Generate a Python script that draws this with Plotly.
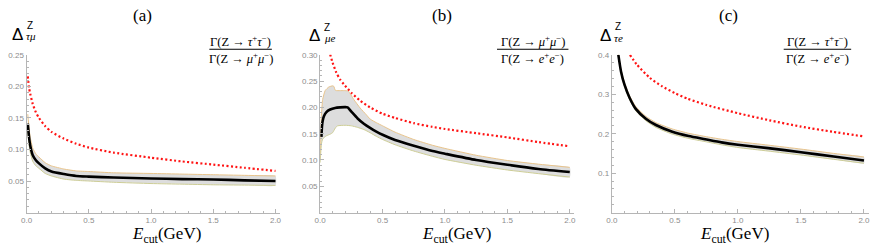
import plotly.graph_objects as go

# ---------------- data ----------------
# panel (a)  Delta^Z_{tau mu}
xa = [0.01, 0.02, 0.03, 0.05, 0.075, 0.1, 0.15, 0.2, 0.3, 0.4, 0.5, 0.7, 1.0, 1.25, 1.5, 1.75, 2.0]
black_a = [0.141, 0.120, 0.106, 0.091, 0.083, 0.078, 0.070, 0.065, 0.061, 0.058, 0.057, 0.0555, 0.054, 0.053, 0.0525, 0.051, 0.050]
upper_a = [0.156, 0.134, 0.119, 0.102, 0.093, 0.088, 0.079, 0.074, 0.069, 0.066, 0.065, 0.063, 0.062, 0.061, 0.060, 0.059, 0.058]
lower_a = [0.128, 0.108, 0.095, 0.081, 0.074, 0.070, 0.062, 0.058, 0.053, 0.051, 0.050, 0.048, 0.046, 0.045, 0.044, 0.0435, 0.043]
red_a = [0.216, 0.198, 0.188, 0.172, 0.159, 0.150, 0.137, 0.128, 0.117, 0.109, 0.103, 0.095, 0.087, 0.081, 0.076, 0.071, 0.066]

# panel (b)  Delta^Z_{mu e}
xb = [0.01, 0.015, 0.02, 0.03, 0.05, 0.08, 0.12, 0.16, 0.2, 0.22, 0.25, 0.3, 0.35, 0.4, 0.45, 0.5, 0.6, 0.75, 0.9, 1.0, 1.25, 1.5, 1.75, 2.0]
black_b = [0.144, 0.165, 0.174, 0.183, 0.191, 0.196, 0.199, 0.200, 0.2005, 0.200, 0.192, 0.179, 0.169, 0.161, 0.154, 0.148, 0.138, 0.127, 0.117, 0.112, 0.100, 0.091, 0.083, 0.077]
xb_up = [0.0, 0.005, 0.01, 0.02, 0.04, 0.07, 0.1, 0.11, 0.12, 0.13, 0.2, 0.225, 0.27, 0.32, 0.37, 0.4, 0.45, 0.5, 0.6, 0.75, 0.9, 1.0, 1.25, 1.5, 1.75, 2.0]
upper_b = [0.100, 0.150, 0.185, 0.215, 0.232, 0.239, 0.241, 0.240, 0.233, 0.232, 0.232, 0.231, 0.215, 0.199, 0.186, 0.178, 0.171, 0.165, 0.153, 0.139, 0.128, 0.122, 0.109, 0.099, 0.092, 0.086]
xb_lo = [0.0, 0.005, 0.01, 0.02, 0.05, 0.08, 0.1, 0.11, 0.125, 0.14, 0.2, 0.25, 0.3, 0.35, 0.4, 0.45, 0.5, 0.6, 0.75, 0.9, 1.0, 1.25, 1.5, 1.75, 2.0]
lower_b = [0.095, 0.115, 0.130, 0.140, 0.146, 0.149, 0.152, 0.156, 0.162, 0.165, 0.166, 0.165, 0.162, 0.158, 0.152, 0.145, 0.139, 0.129, 0.117, 0.107, 0.101, 0.090, 0.081, 0.074, 0.0675]
xb_red = [0.08, 0.1, 0.13, 0.16, 0.19, 0.25, 0.32, 0.4, 0.5, 0.6, 0.75, 0.9, 1.0, 1.25, 1.5, 1.75, 2.0]
red_b = [0.301, 0.285, 0.266, 0.253, 0.244, 0.228, 0.213, 0.200, 0.188, 0.180, 0.170, 0.163, 0.159, 0.151, 0.143, 0.134, 0.126]

# panel (c)  Delta^Z_{tau e}
xc = [0.052, 0.073, 0.1, 0.14, 0.19, 0.27, 0.35, 0.48, 0.61, 0.74, 0.87, 1.0, 1.24, 1.5, 1.76, 2.0]
black_c = [0.400, 0.358, 0.325, 0.292, 0.263, 0.238, 0.222, 0.205, 0.194, 0.186, 0.178, 0.172, 0.1635, 0.153, 0.142, 0.132]
upper_c = [0.404, 0.363, 0.330, 0.297, 0.269, 0.244, 0.228, 0.212, 0.201, 0.193, 0.186, 0.180, 0.171, 0.161, 0.150, 0.141]
lower_c = [0.396, 0.353, 0.320, 0.287, 0.258, 0.233, 0.216, 0.199, 0.188, 0.180, 0.172, 0.165, 0.156, 0.146, 0.135, 0.125]
xc_red = [0.144, 0.2, 0.3, 0.4, 0.5, 0.6, 0.75, 1.0, 1.25, 1.5, 1.75, 2.0]
red_c = [0.400, 0.375, 0.342, 0.320, 0.303, 0.289, 0.273, 0.252, 0.234, 0.218, 0.205, 0.193]

# tick labels
x_tickvals = [0.0, 0.5, 1.0, 1.5, 2.0]
x_ticktext = ["0.0", "0.5", "1.0", "1.5", "2.0"]
ya_tickvals = [0.05, 0.10, 0.15, 0.20, 0.25]
ya_ticktext = ["0.05", "0.10", "0.15", "0.20", "0.25"]
yb_tickvals = [0.05, 0.10, 0.15, 0.20, 0.25, 0.30]
yb_ticktext = ["0.05", "0.10", "0.15", "0.20", "0.25", "0.30"]
yc_tickvals = [0.1, 0.2, 0.3, 0.4]
yc_ticktext = ["0.1", "0.2", "0.3", "0.4"]

panel_titles = ["(a)", "(b)", "(c)"]
delta_subs = ["τμ", "μe", "τe"]
frac_num = ["Γ(Z → <i>τ</i><sup>+</sup><i>τ</i><sup>−</sup>)",
            "Γ(Z → <i>μ</i><sup>+</sup><i>μ</i><sup>−</sup>)",
            "Γ(Z → <i>τ</i><sup>+</sup><i>τ</i><sup>−</sup>)"]
frac_den = ["Γ(Z → <i>μ</i><sup>+</sup><i>μ</i><sup>−</sup>)",
            "Γ(Z → <i>e</i><sup>+</sup><i>e</i><sup>−</sup>)",
            "Γ(Z → <i>e</i><sup>+</sup><i>e</i><sup>−</sup>)"]
xlabel = "<i>E</i><sub>cut</sub>(GeV)"

# ---------------- layout geometry (pixels) ----------------
W, H = 872, 246
def PX(p):
    return p / W
def PY(p):
    return 1 - p / H

panels = [
    dict(x0=20.7, x1=276.7, xmax=2.04, ymax=0.25, ydt=0.01,
         xt=x_tickvals, xtt=x_ticktext, yt=ya_tickvals, ytt=ya_ticktext,
         title=(138, 12), dl=(11.5, 30.5), zl=(19, 21.5), sl=(18.5, 32.5),
         frac=(205, 268), xlab=(162, 235)),
    dict(x0=316.7, x1=573.0, xmax=2.037, ymax=0.30, ydt=0.01,
         xt=x_tickvals, xtt=x_ticktext, yt=yb_tickvals, ytt=yb_ticktext,
         title=(440, 12), dl=(311.5, 32), zl=(319, 23.5), sl=(318.5, 35),
         frac=(495, 567), xlab=(454, 235)),
    dict(x0=610.7, x1=870.0, xmax=2.04, ymax=0.40, ydt=0.02,
         xt=x_tickvals, xtt=x_ticktext, yt=yc_tickvals, ytt=yc_ticktext,
         title=(728, 12), dl=(604, 32), zl=(611.5, 22.5), sl=(611, 35),
         frac=(784, 852), xlab=(734, 235)),
]

series = [
    dict(xu=xa, yu=upper_a, xl=xa, yl=lower_a, xk=xa, yk=black_a, xr=xa, yr=red_a),
    dict(xu=xb_up, yu=upper_b, xl=xb_lo, yl=lower_b, xk=xb, yk=black_b, xr=xb_red, yr=red_b),
    dict(xu=xc, yu=upper_c, xl=xc, yl=lower_c, xk=xc, yk=black_c, xr=xc_red, yr=red_c),
]

AX_COL = "#b5b5b5"
TICK_FONT = dict(family="Liberation Sans, Arial, sans-serif", size=8, color="#8c8c8c")
SERIF = "Liberation Serif, Times New Roman, serif"
SANS = "Liberation Sans, Arial, sans-serif"

fig = go.Figure()
annotations = []
shapes = []
y_dom = [PY(212), PY(51.7)]

def ann(text, x, y, xanchor, size, family):
    return dict(text=text, x=PX(x), y=PY(y), xref="paper", yref="paper",
                xanchor=xanchor, yanchor="middle", showarrow=False,
                font=dict(family=family, size=size, color="black"))

for i, (p, s) in enumerate(zip(panels, series)):
    suf = "" if i == 0 else str(i + 1)
    xr_name, yr_name = "x" + suf, "y" + suf
    # band
    fig.add_trace(go.Scatter(x=s["xu"] + s["xl"][::-1], y=s["yu"] + s["yl"][::-1],
                             fill="toself", fillcolor="rgb(221,221,221)",
                             mode="lines", line=dict(width=0, shape="spline", smoothing=0.5),
                             hoverinfo="skip", showlegend=False, xaxis=xr_name, yaxis=yr_name))
    fig.add_trace(go.Scatter(x=s["xu"], y=s["yu"], mode="lines",
                             line=dict(color="rgb(232,196,140)", width=1, shape="spline", smoothing=0.5),
                             showlegend=False, xaxis=xr_name, yaxis=yr_name))
    fig.add_trace(go.Scatter(x=s["xl"], y=s["yl"], mode="lines",
                             line=dict(color="rgb(205,205,150)", width=1, shape="spline", smoothing=0.5),
                             showlegend=False, xaxis=xr_name, yaxis=yr_name))
    fig.add_trace(go.Scatter(x=s["xk"], y=s["yk"], mode="lines",
                             line=dict(color="black", width=2.6, shape="spline", smoothing=0.6),
                             showlegend=False, xaxis=xr_name, yaxis=yr_name))
    fig.add_trace(go.Scatter(x=s["xr"], y=s["yr"], mode="lines",
                             line=dict(color="rgb(255,20,20)", width=2.2, dash="2px,2.4px",
                                       shape="spline", smoothing=0.6),
                             showlegend=False, xaxis=xr_name, yaxis=yr_name))

    xaxis = dict(domain=[PX(p["x0"]), PX(p["x1"])], range=[0, p["xmax"]], anchor=yr_name,
                 showline=True, linecolor=AX_COL, linewidth=1, showgrid=False, zeroline=False,
                 tickmode="array", tickvals=p["xt"], ticktext=p["xtt"], ticks="inside",
                 ticklen=4, tickcolor=AX_COL, tickfont=TICK_FONT,
                 minor=dict(tickmode="linear", tick0=0, dtick=0.1, ticks="inside", ticklen=2,
                            tickcolor=AX_COL, showgrid=False))
    yaxis = dict(domain=y_dom, range=[0, p["ymax"]], anchor=xr_name,
                 showline=True, linecolor=AX_COL, linewidth=1, showgrid=False, zeroline=False,
                 tickmode="array", tickvals=p["yt"], ticktext=p["ytt"], ticks="inside",
                 ticklen=4, tickcolor=AX_COL, tickfont=TICK_FONT,
                 minor=dict(tickmode="linear", tick0=0, dtick=p["ydt"], ticks="inside", ticklen=2,
                            tickcolor=AX_COL, showgrid=False))
    fig.update_layout(**{"xaxis" + suf: xaxis, "yaxis" + suf: yaxis})

    annotations.append(ann(panel_titles[i], p["title"][0], p["title"][1], "center", 17, SERIF))
    annotations.append(ann("Δ", p["dl"][0], p["dl"][1], "center", 17, SANS))
    annotations.append(ann("Z", p["zl"][0], p["zl"][1], "left", 10, SANS))
    annotations.append(ann("<i>" + delta_subs[i] + "</i>", p["sl"][0], p["sl"][1], "left", 11, SERIF))
    fx0, fx1 = p["frac"]
    fc = (fx0 + fx1) / 2
    annotations.append(ann(frac_num[i], fc, 37.5, "center", 12.5, SERIF))
    annotations.append(ann(frac_den[i], fc, 54.5, "center", 12.5, SERIF))
    shapes.append(dict(type="line", xref="paper", yref="paper", x0=PX(fx0), x1=PX(fx1),
                       y0=PY(46), y1=PY(46), line=dict(color="black", width=1)))
    annotations.append(ann(xlabel, p["xlab"][0], p["xlab"][1], "center", 17, SERIF))

fig.update_layout(width=W, height=H, margin=dict(l=0, r=0, t=0, b=0),
                  paper_bgcolor="white", plot_bgcolor="white",
                  annotations=annotations, shapes=shapes, showlegend=False)

fig.write_html("out.html", config={"displayModeBar": False},
               post_script="document.body.style.margin='0';document.body.style.overflow='hidden';")
